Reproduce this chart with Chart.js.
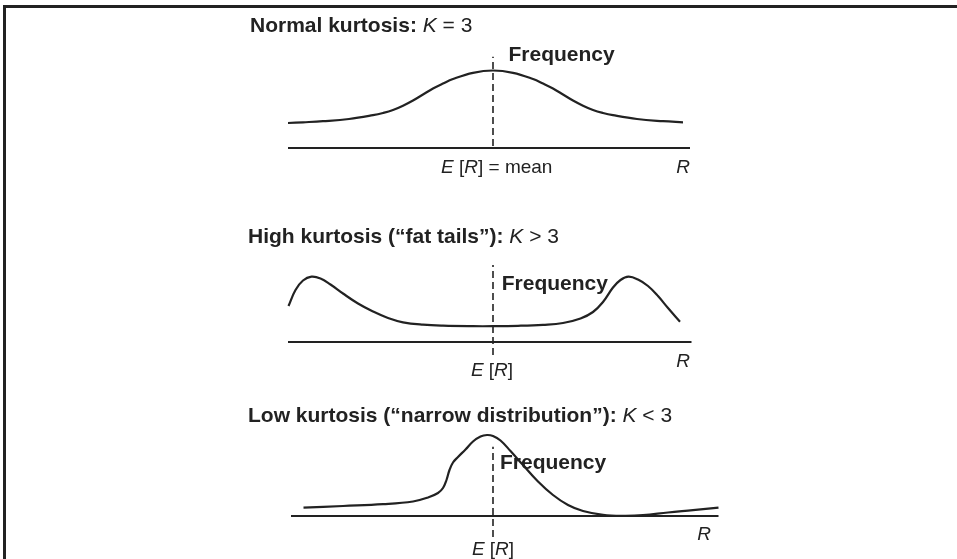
<!DOCTYPE html>
<html>
<head>
<meta charset="utf-8">
<script src="https://cdn.jsdelivr.net/npm/chart.js@4.4.1/dist/chart.umd.min.js"></script>
<style>
  html, body { margin: 0; padding: 0; background: #fff; }
  #page { position: relative; width: 957px; height: 559px; overflow: hidden; background: #fff; }
  #frame { position: absolute; left: 3px; top: 5px; right: -10px; bottom: -10px;
           border-top: 3px solid #222; border-left: 3px solid #222; }
  canvas { position: absolute; left: 0; }
</style>
</head>
<body>
<div id="page">
  <div id="frame"></div>
  <canvas id="panel0" width="957" height="190" style="top:0px"></canvas>
  <canvas id="panel1" width="957" height="190" style="top:200px"></canvas>
  <canvas id="panel2" width="957" height="169" style="top:390px"></canvas>
</div>
<script>
// Returns R measured from the mean E[R] (= 0), frequency in relative units.

// Normal kurtosis, K = 3
const normalR    = [-4.1, -3.8, -3.4, -2.88, -2.4, -2.2, -2.0, -1.8, -1.6, -1.4, -1.2, -1.0, -0.8, -0.4, 0, 0.4, 0.8, 1.0, 1.2, 1.4, 1.6, 1.8, 2.0, 2.2, 2.4, 2.88, 3.4, 3.8];
const normalFreq = [0.25, 0.257, 0.268, 0.29, 0.328, 0.35, 0.38, 0.423, 0.475, 0.535, 0.595, 0.645, 0.69, 0.752, 0.775, 0.752, 0.69, 0.645, 0.595, 0.535, 0.475, 0.423, 0.38, 0.35, 0.328, 0.29, 0.268, 0.257];

// High kurtosis ("fat tails"), K > 3
const fatR    = [-4.09, -3.95, -3.8, -3.63, -3.45, -3.25, -3.0, -2.7, -2.4, -2.1, -1.8, -1.4, -1.0, -0.4, 0, 0.5, 1.0, 1.4, 1.75, 2.0, 2.2, 2.4, 2.55, 2.71, 2.9, 3.1, 3.3, 3.5, 3.74];
const fatFreq = [0.36, 0.52, 0.615, 0.653, 0.635, 0.575, 0.485, 0.385, 0.305, 0.24, 0.197, 0.173, 0.163, 0.158, 0.158, 0.162, 0.172, 0.19, 0.235, 0.30, 0.40, 0.545, 0.62, 0.653, 0.625, 0.56, 0.46, 0.34, 0.203];

// Low kurtosis ("narrow distribution"), K < 3
const narrowR    = [-3.79, -3.0, -2.2, -1.6, -1.3, -1.1, -1.0, -0.93, -0.87, -0.8, -0.7, -0.55, -0.4, -0.25, -0.12, 0, 0.15, 0.35, 0.6, 0.9, 1.2, 1.5, 1.8, 2.2, 2.6, 3.0, 3.5, 4.0, 4.51];
const narrowFreq = [0.083, 0.10, 0.118, 0.145, 0.185, 0.23, 0.28, 0.36, 0.46, 0.535, 0.59, 0.665, 0.745, 0.795, 0.81, 0.80, 0.755, 0.65, 0.51, 0.345, 0.21, 0.11, 0.05, 0.012, 0.002, 0.008, 0.035, 0.058, 0.083];

// Extent of each R axis and of the dashed mean line
const axisFrom   = [-4.1, -4.1, -4.04];
const axisTo     = [3.94, 3.97, 4.51];
const meanTop    = [0.913, 0.77, 0.693];
const meanBottom = [0.02, -0.13, -0.21];

// Panel headings
const titleBold   = ['Normal kurtosis:', 'High kurtosis (\u201cfat tails\u201d):', 'Low kurtosis (\u201cnarrow distribution\u201d):'];
const titleRel    = ['=', '>', '<'];
const kValue      = '3';
const meanSuffix  = [' = mean', '', ''];

const curvesR    = [normalR, fatR, narrowR];
const curvesFreq = [normalFreq, fatFreq, narrowFreq];

// Per-panel placement of the canvases and the annotation text (pixels)
const layout = [
  { padTop: 48, padBottom: 12, titleX: 250, titleY: 31.7, freqDx: 15.5, freqUp: 87,   meanDown: 25, meanDx: -52, rX: 690, rDown: 25 },
  { padTop: 42, padBottom: 18, titleX: 248, titleY: 43,   freqDx: 8.7,  freqUp: 52,   meanDown: 34, meanDx: -1,  rX: 690, rDown: 25 },
  { padTop: 26, padBottom: 13, titleX: 248, titleY: 31.7, freqDx: 7,    freqUp: 47.5, meanDown: 39, meanDx: 0,   rX: 711, rDown: 24 }
];

const INK = '#222';
const FAMILY = '"Liberation Sans", Arial, Helvetica, sans-serif';
const bold = (s) => 'bold ' + s + 'px ' + FAMILY;
const reg  = (s) => s + 'px ' + FAMILY;
const ital = (s) => 'italic ' + s + 'px ' + FAMILY;

// Draws a row of differently styled text pieces as one label
function drawRuns(ctx, runs, x, y, align) {
  let total = 0;
  runs.forEach(r => { ctx.font = r[1]; total += ctx.measureText(r[0]).width; });
  let cx = align === 'center' ? x - total / 2 : (align === 'right' ? x - total : x);
  ctx.textAlign = 'left';
  ctx.textBaseline = 'alphabetic';
  ctx.fillStyle = INK;
  runs.forEach(r => { ctx.font = r[1]; ctx.fillText(r[0], cx, y); cx += ctx.measureText(r[0]).width; });
}

const annotations = {
  id: 'kurtosisLabels',
  afterDatasetsDraw(chart, args, opts) {
    const i = opts.panel;
    const L = layout[i];
    const ctx = chart.ctx;
    const xs = chart.scales.x, ys = chart.scales.y;
    const meanX = xs.getPixelForValue(0);
    const axisY = ys.getPixelForValue(0);
    ctx.save();
    drawRuns(ctx, [[titleBold[i] + ' ', bold(21)], ['K', ital(21)], [' ' + titleRel[i] + ' ' + kValue, reg(21)]], L.titleX, L.titleY, 'left');
    drawRuns(ctx, [['Frequency', bold(21)]], meanX + L.freqDx, axisY - L.freqUp, 'left');
    drawRuns(ctx, [['E', ital(19)], [' [', reg(19)], ['R', ital(19)], [']' + meanSuffix[i], reg(19)]],
             meanX + L.meanDx, axisY + L.meanDown, meanSuffix[i] ? 'left' : 'center');
    drawRuns(ctx, [['R', ital(19)]], L.rX, axisY + L.rDown, 'right');
    ctx.restore();
  }
};

for (let i = 0; i < 3; i++) {
  const L = layout[i];
  const curve = curvesR[i].map((r, k) => ({ x: r, y: curvesFreq[i][k] }));
  const axisLine = [{ x: axisFrom[i], y: 0 }, { x: axisTo[i], y: 0 }];
  const meanLine = [{ x: 0, y: meanBottom[i] }, { x: 0, y: meanTop[i] }];
  new Chart(document.getElementById('panel' + i), {
    type: 'line',
    data: {
      datasets: [
        { data: curve, borderColor: INK, borderWidth: 2.2, pointRadius: 0, fill: false, tension: 0.4 },
        { data: axisLine, borderColor: INK, borderWidth: 2.2, pointRadius: 0, fill: false },
        { data: meanLine, borderColor: INK, borderWidth: 1.6, borderDash: [7, 4], pointRadius: 0, fill: false }
      ]
    },
    options: {
      responsive: false,
      animation: false,
      events: [],
      layout: { padding: { left: 283, right: 234, top: L.padTop, bottom: L.padBottom } },
      scales: {
        x: { type: 'linear', min: -4.2, max: 4.6, display: false },
        y: { type: 'linear', min: -0.3, max: 1, display: false }
      },
      plugins: {
        legend: { display: false },
        tooltip: { enabled: false },
        kurtosisLabels: { panel: i }
      }
    },
    plugins: [annotations]
  });
}
</script>
</body>
</html>
